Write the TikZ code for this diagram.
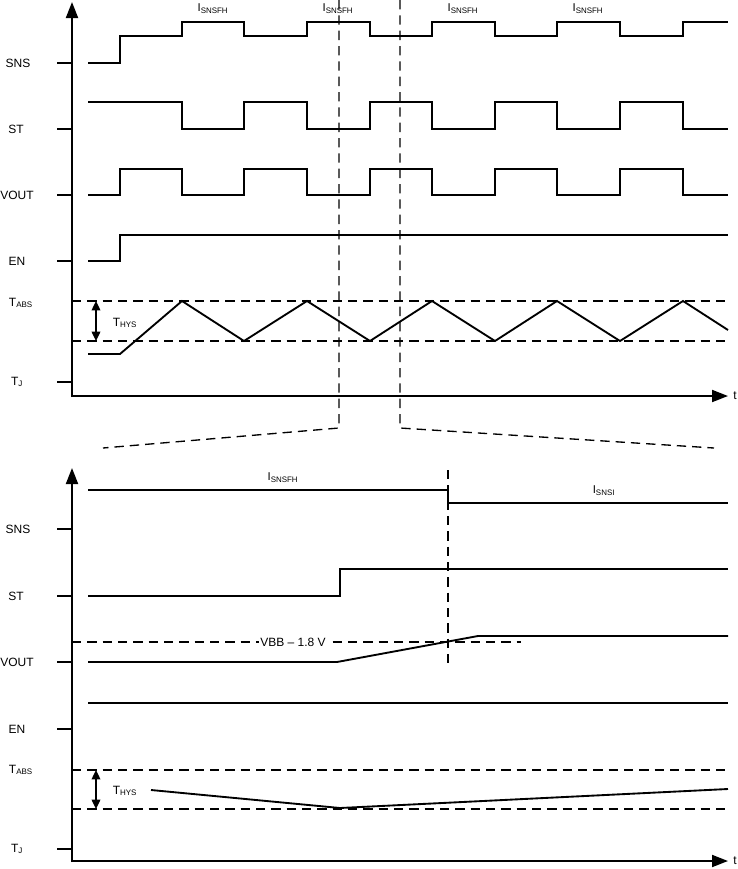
\documentclass[tikz,border=0pt]{standalone}
\usepackage{fontspec}
\setmainfont{Liberation Sans}
\usetikzlibrary{arrows.meta}
\begin{document}
\begin{tikzpicture}[x=0.75pt,y=-0.75pt,
  sig/.style={line width=1.4pt,line join=miter},
  axis/.style={line width=1.4pt,-{Triangle[length=12pt,width=9pt]}},
  tick/.style={line width=1.4pt},
  dsh/.style={line width=1pt,dash pattern=on 7pt off 4.5pt},
  hys/.style={line width=1pt,{Triangle[length=7pt,width=6.5pt]}-{Triangle[length=7pt,width=6.5pt]}},
  lbl/.style={font=\fontsize{9pt}{11pt}\selectfont,inner sep=0pt},
  sub/.style={font=\fontsize{8.5pt}{10pt}\selectfont,inner sep=0pt}]
\useasboundingbox (0,0) rectangle (738,869);

% ================= TOP PANEL =================
\coordinate (ya0) at (72,397);
\coordinate (ya1) at (72,2);
\coordinate (xa1) at (728,396);
\draw[axis] (ya0) -- (ya1);
\draw[axis] (71,396) -- (xa1);
\node[lbl,anchor=west] (t1) at (733,396) {t};

\foreach \y/\n in {63/a,129/b,195/c,261/d,382/e}{
  \coordinate (tk\n) at (57,\y); \coordinate (tke\n) at (72,\y);
  \draw[tick] (tk\n) -- (tke\n);}
\node[lbl] (sns1) at (18,63) {SNS};
\node[lbl] (st1) at (16,129) {ST};
\node[lbl] (vout1) at (17,195) {VOUT};
\node[lbl] (en1) at (17,261) {EN};
\node[lbl] (tabs1) at (21,303) {T\textsubscript{ABS}};
\node[lbl] (tj1) at (17,382) {T\textsubscript{J}};

% SNS
\draw[sig] (88,63) -- (120,63) -- (120,36) -- (182,36) -- (182,22) -- (244,22) -- (244,36)
  -- (307,36) -- (307,22) -- (370,22) -- (370,36) -- (432,36) -- (432,22) -- (495,22)
  -- (495,36) -- (557,36) -- (557,22) -- (620,22) -- (620,36) -- (683,36) -- (683,22) -- (728,22);
\foreach \x/\n in {213/a,338/b,463/c,588/d}
  \node[sub] (isn\n) at (\x,9) {I\textsubscript{SNSFH}};

% ST
\draw[sig] (88,102) -- (182,102) -- (182,129) -- (244,129) -- (244,102) -- (307,102) -- (307,129)
  -- (370,129) -- (370,102) -- (432,102) -- (432,129) -- (495,129) -- (495,102) -- (557,102)
  -- (557,129) -- (620,129) -- (620,102) -- (683,102) -- (683,129) -- (728,129);

% VOUT
\draw[sig] (88,195) -- (120,195) -- (120,169) -- (182,169) -- (182,195) -- (244,195) -- (244,169)
  -- (307,169) -- (307,195) -- (370,195) -- (370,169) -- (432,169) -- (432,195) -- (495,195)
  -- (495,169) -- (557,169) -- (557,195) -- (620,195) -- (620,169) -- (683,169) -- (683,195) -- (728,195);

% EN
\draw[sig] (88,261) -- (120,261) -- (120,235) -- (728,235);

% TJ
\draw[dsh] (72,301) -- (728,301);
\draw[dsh] (72,341) -- (728,341);
\draw[sig] (88,354) -- (120,354) -- (182,301) -- (244,341) -- (307,301) -- (370,341) -- (432,301)
  -- (495,341) -- (557,301) -- (620,341) -- (683,301) -- (728,330);
\coordinate (h1a) at (96,301); \coordinate (h1b) at (96,341);
\draw[hys] (h1a) -- (h1b);
\node[lbl] (thys1) at (125,323) {T\textsubscript{HYS}};

% zoom lines
\coordinate (z1) at (339,0); \coordinate (z1b) at (339,428); \coordinate (z1c) at (103,448);
\coordinate (z2) at (400,0); \coordinate (z2b) at (400,428); \coordinate (z2c) at (714,448);
\draw[dsh] (z1) -- (z1b) -- (z1c);
\draw[dsh] (z2) -- (z2b) -- (z2c);

% ================= BOTTOM PANEL =================
\draw[axis] (72,862) -- (72,468);
\draw[axis] (71,861) -- (728,861);
\node[lbl,anchor=west] (t2) at (733,861) {t};

\foreach \y/\n in {529/f,596/g,662/h,729/i,849/j}{
  \coordinate (tk\n) at (57,\y); \coordinate (tke\n) at (72,\y);
  \draw[tick] (tk\n) -- (tke\n);}
\node[lbl] (sns2) at (18,529) {SNS};
\node[lbl] (st2) at (16,596) {ST};
\node[lbl] (vout2) at (17,662) {VOUT};
\node[lbl] (en2) at (17,729) {EN};
\node[lbl] (tabs2) at (21,770) {T\textsubscript{ABS}};
\node[lbl] (tj2) at (17,849) {T\textsubscript{J}};

% SNS
\draw[sig] (88,490) -- (448,490) -- (448,503) -- (728,503);
\node[sub] (isnh) at (283,478) {I\textsubscript{SNSFH}};
\node[sub] (isni) at (604,491) {I\textsubscript{SNSI}};

% vertical dashed
\draw[dsh] (448,470) -- (448,667);

% ST
\draw[sig] (88,596) -- (340,596) -- (340,569) -- (728,569);

% VOUT
\draw[dsh] (72,642) -- (521,642);
\node[lbl,fill=white,inner xsep=1pt,inner ysep=1pt] (vbb) at (293,642) {VBB -- 1.8 V};
\draw[sig] (88,662) -- (337,662) -- (478,636) -- (728,636);

% EN
\draw[sig] (88,703) -- (728,703);

% TJ
\draw[dsh] (72,770) -- (728,770);
\draw[dsh] (72,809) -- (728,809);
\draw[sig] (151,790) -- (340,808) -- (728,789);
\draw[hys] (96,770) -- (96,809);
\node[lbl] (thys2) at (125,791) {T\textsubscript{HYS}};
\end{tikzpicture}
\end{document}
